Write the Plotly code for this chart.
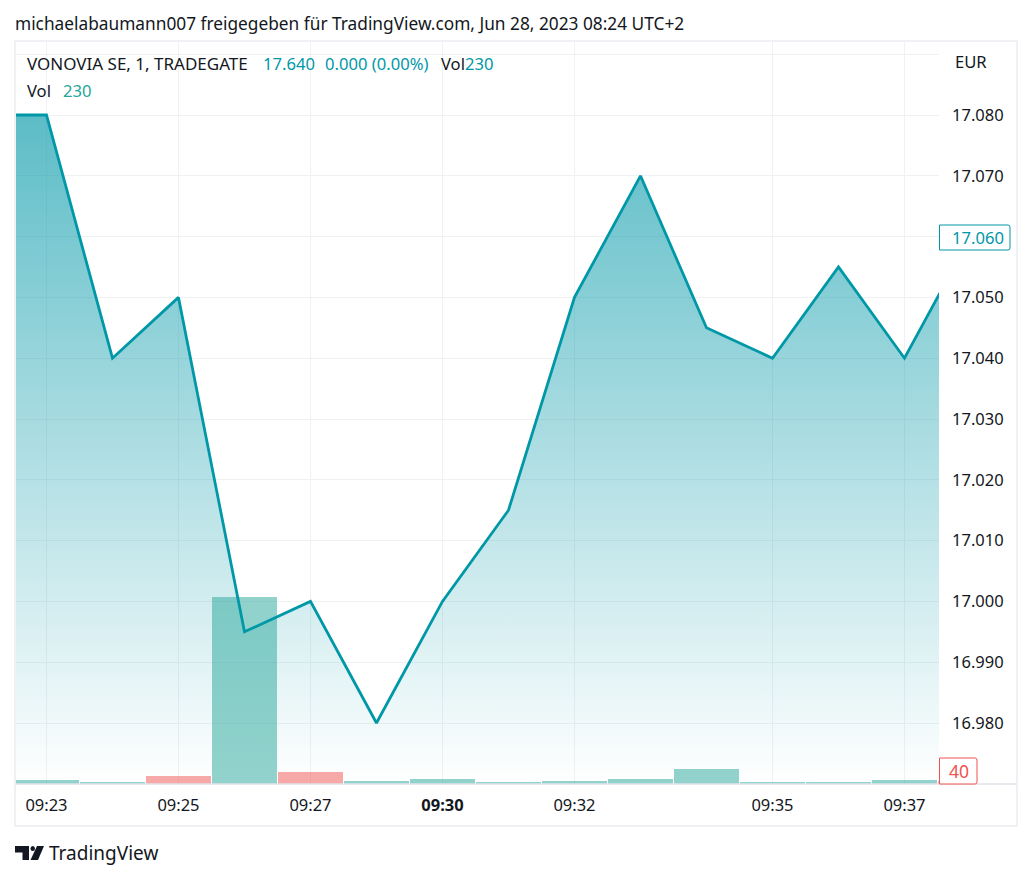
# vonovia_tradingview_plot.py

import plotly.graph_objects as go

# Bars on the chart, the first one sits left of the visible window
minutes = ['09:22', '09:23', '09:24', '09:25', '09:26', '09:27', '09:28', '09:30',
           '09:31', '09:32', '09:33', '09:34', '09:35', '09:36', '09:37', '09:38']
prices = [17.080, 17.080, 17.040, 17.050, 16.995, 17.000, 16.980, 17.000,
          17.015, 17.050, 17.070, 17.045, 17.040, 17.055, 17.040, 17.060]
volumes = [60, 60, 30, 120, 2800, 180, 45, 75, 30, 45, 75, 230, 30, 30, 60, 40]
bar_up = [True, True, True, False, True, False, True, True,
          True, True, True, True, True, True, True, False]

x_tick_vals = ['09:23', '09:25', '09:27', '09:30', '09:32', '09:35', '09:37']
x_tick_text = ['09:23', '09:25', '09:27', '<b>09:30</b>', '09:32', '09:35', '09:37']
y_tick_vals = [16.97, 16.98, 16.99, 17.00, 17.01, 17.02, 17.03, 17.04, 17.05, 17.06, 17.07, 17.08, 17.09]
y_tick_text = ['', '16.980', '16.990', '17.000', '17.010', '17.020', '17.030', '17.040',
               '17.050', '', '17.070', '17.080', '']

TEAL = '#0097a7'
VOL_TEAL = '#26a69a'
RED = '#ef5350'
DARK = '#131722'
GRID = '#f0f1f5'
FONT = 'Noto Sans'

# the browser page adds 8px of body margin, so the figure is that much smaller
PAGE_MARGIN = 8
WIDTH, HEIGHT = 1032 - PAGE_MARGIN, 879 - PAGE_MARGIN
LEFT, RIGHT, TOP, BOTTOM = 15, 939, 41, 784
PRICE_RANGE = [16.96997, 17.09217]
VOLUME_RANGE = [0, 11125]
X_RANGE = [0.523, 14.523]


# pixel position on the page to paper coordinates
def px(x):
    return (x - LEFT) / (RIGHT - LEFT)


def py(y):
    return (BOTTOM - y) / (BOTTOM - TOP)


fig = go.Figure()

# Area under the price line
fig.add_trace(go.Scatter(
    x=minutes, y=prices, mode='none', fill='tozeroy',
    fillgradient=dict(
        type='vertical', start=PRICE_RANGE[0], stop=prices[0],
        colorscale=[[0, 'rgba(0,151,167,0)'], [1, 'rgba(0,151,167,0.64)']],
    ),
    hoverinfo='skip', showlegend=False,
))

# Volume bars
fig.add_trace(go.Bar(
    x=minutes, y=volumes, yaxis='y2', width=0.98,
    marker=dict(
        color=['rgba(38,166,154,0.5)' if up else 'rgba(239,83,80,0.5)' for up in bar_up],
        line=dict(width=0),
    ),
    showlegend=False,
))

# Price line
fig.add_trace(go.Scatter(
    x=minutes, y=prices, yaxis='y3', mode='lines',
    line=dict(color=TEAL, width=2.8),
    showlegend=False,
))


def label(x, y, text, color=DARK, size=16.6, anchor='left'):
    fig.add_annotation(
        x=px(x), y=py(y), xref='paper', yref='paper', text=text, showarrow=False,
        xanchor=anchor, yanchor='middle', borderpad=0, borderwidth=0,
        font=dict(family=FONT, size=size, color=color),
    )


def tag_path(x0, x1, y0, y1):
    # square on the left, small radius on the right corners
    r = 2
    return 'M {} {} L {} {} Q {} {} {} {} L {} {} Q {} {} {} {} L {} {} Z'.format(
        px(x0), py(y0), px(x1 - r), py(y0), px(x1), py(y0), px(x1), py(y0 + r),
        px(x1), py(y1 - r), px(x1), py(y1), px(x1 - r), py(y1), px(x0), py(y1))


label(15, 23, 'michaelabaumann007 freigegeben für TradingView.com, Jun 28, 2023 08:24 UTC+2', size=17.3)
label(27, 64, 'VONOVIA SE, 1, TRADEGATE', size=17)
label(263, 64, '17.640', TEAL)
label(325, 64, '0.000 (0.00%)', TEAL)
label(441, 64, 'Vol')
label(465, 64, '230', TEAL)
label(27, 90, 'Vol')
label(63, 90, '230', VOL_TEAL)
label(955, 61, 'EUR')
label(49, 853, 'TradingView', size=19)
label(952, 237, '17.060', TEAL)
label(949, 771, '40', RED, size=17.5)

shapes = [
    # outer frame
    dict(type='rect', xref='paper', yref='paper', x0=px(15), x1=px(1017), y0=py(826), y1=py(41),
         line=dict(color=GRID, width=2), layer='above'),
    # time axis line
    dict(type='line', xref='paper', yref='paper', x0=px(15), x1=px(1017), y0=py(784), y1=py(784),
         line=dict(color='#e0e3eb', width=1.5), layer='above'),
    # last price and last volume tags on the scale
    dict(type='path', xref='paper', yref='paper', path=tag_path(939.5, 1010, 225, 250),
         fillcolor='white', line=dict(color=TEAL, width=1), layer='above'),
    dict(type='path', xref='paper', yref='paper', path=tag_path(939.5, 977, 758, 784),
         fillcolor='white', line=dict(color=RED, width=1), layer='above'),
]

# TradingView mark
logo = 'M {} {} L {} {} L {} {} L {} {} L {} {} L {} {} Z'.format(
    px(15), py(846), px(29), py(846), px(29), py(860), px(22.5), py(860), px(22.5), py(852.5), px(15), py(852.5))
logo_bar = 'M {} {} L {} {} L {} {} L {} {} Z'.format(
    px(37), py(846), px(44), py(846), px(38), py(860), px(30.5), py(860))
for path in (logo, logo_bar):
    shapes.append(dict(type='path', xref='paper', yref='paper', path=path,
                       fillcolor=DARK, line=dict(width=0)))
shapes.append(dict(type='circle', xref='paper', yref='paper', x0=px(30.5), x1=px(35), y0=py(851), y1=py(846),
                   fillcolor=DARK, line=dict(width=0)))

fig.update_layout(
    width=WIDTH, height=HEIGHT,
    margin=dict(l=LEFT - PAGE_MARGIN, r=WIDTH + PAGE_MARGIN - RIGHT, t=TOP - PAGE_MARGIN,
                b=HEIGHT + PAGE_MARGIN - BOTTOM, pad=0),
    plot_bgcolor='white', paper_bgcolor='white',
    font=dict(family=FONT, size=16.5, color=DARK),
    bargap=0, barmode='overlay',
    shapes=shapes,
    xaxis=dict(
        type='category', categoryorder='array', categoryarray=minutes, range=X_RANGE,
        tickmode='array', tickvals=x_tick_vals, ticktext=x_tick_text,
        showgrid=True, gridcolor=GRID, gridwidth=1, zeroline=False, showline=False,
        ticks='', ticklabelstandoff=9,
    ),
    yaxis=dict(
        range=PRICE_RANGE, side='right', tickmode='array',
        tickvals=y_tick_vals, ticktext=y_tick_text,
        showgrid=True, gridcolor=GRID, gridwidth=1, zeroline=False, showline=False,
        ticks='', ticklabelstandoff=12,
    ),
    yaxis2=dict(overlaying='y', range=VOLUME_RANGE, visible=False),
    yaxis3=dict(overlaying='y', range=PRICE_RANGE, visible=False),
)

fig.write_html("out.html")
